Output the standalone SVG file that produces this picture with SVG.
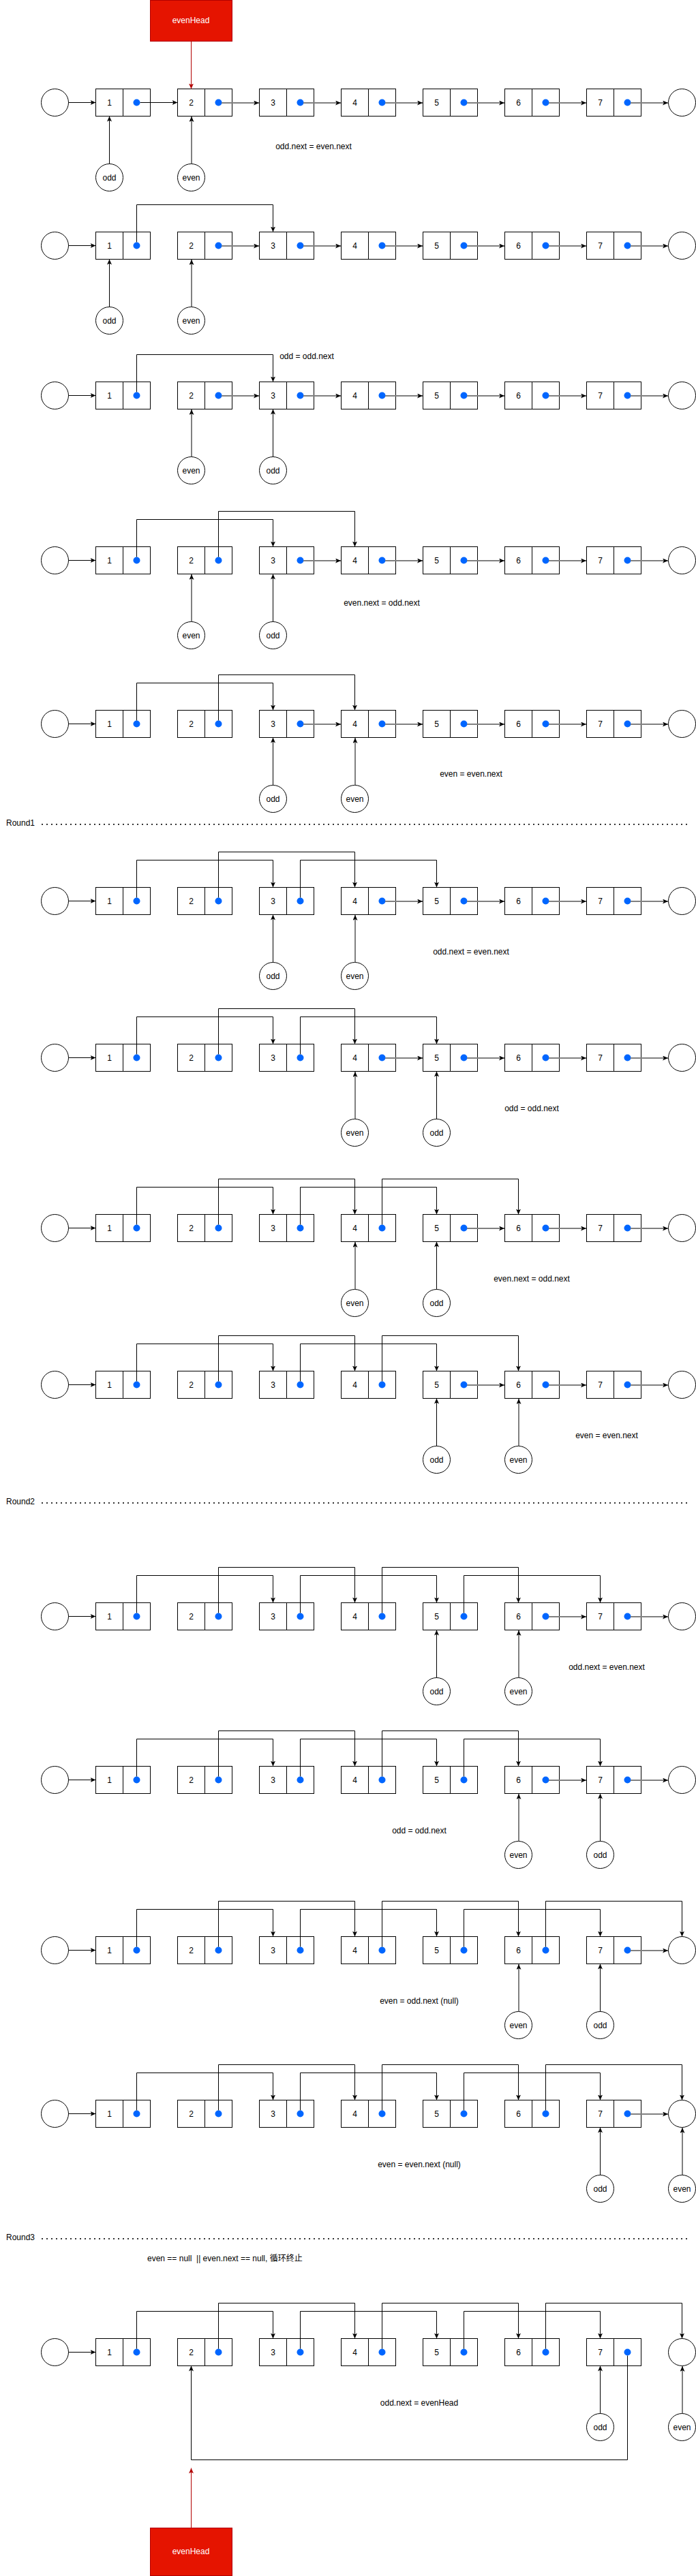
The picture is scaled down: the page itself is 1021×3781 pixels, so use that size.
<svg xmlns="http://www.w3.org/2000/svg" width="1021" height="3781" viewBox="0 0 1021 3781">
<style>
.bx{fill:#fff;stroke:#000;stroke-width:1}
.dt{fill:#0066ff;stroke:none}
.c{fill:#fff;stroke:#000;stroke-width:1}
.t{font-family:"Liberation Sans",Arial,sans-serif;font-size:12px;fill:#000;text-anchor:middle}
.l{font-family:"Liberation Sans",Arial,"Noto Sans CJK SC",sans-serif;font-size:12px;fill:#000;text-anchor:start}
.w{font-family:"Liberation Sans",Arial,sans-serif;font-size:12px;fill:#fff;text-anchor:middle}
.k{fill:none;stroke:#000;stroke-width:1;marker-end:url(#a)}
.g{fill:none;stroke:#808080;stroke-width:2;marker-end:url(#a)}
.r{fill:none;stroke:#B20000;stroke-width:1;marker-end:url(#ar)}
.sep{fill:none;stroke:#333;stroke-width:2;stroke-dasharray:2 5}
.eh{fill:#e51400;stroke:#B20000;stroke-width:1}
</style>
<defs>
<marker id="a" viewBox="0 0 8 7" refX="8" refY="3.5" markerWidth="8" markerHeight="7" markerUnits="userSpaceOnUse" orient="auto"><path d="M0,0 L8,3.5 L0,7 L2,3.5 Z" fill="#000"/></marker>
<marker id="ar" viewBox="0 0 8 7" refX="8" refY="3.5" markerWidth="8" markerHeight="7" markerUnits="userSpaceOnUse" orient="auto"><path d="M0,0 L8,3.5 L0,7 L2,3.5 Z" fill="#B20000"/></marker>
<g id="nd"><rect class="bx" x="0.5" y="0.5" width="40" height="40"/><rect class="bx" x="40.5" y="0.5" width="40" height="40"/><circle class="dt" cx="60.5" cy="20.5" r="5"/></g>
</defs>
<rect width="1021" height="3781" fill="#fff"/>

<g id="evenHead-top"><rect class="eh" x="220.5" y="0.5" width="120" height="60"/><text class="w" x="280" y="34">evenHead</text></g>
<g id="evenHead-bottom"><rect class="eh" x="220.5" y="3710.5" width="120" height="70"/><text class="w" x="280" y="3749">evenHead</text></g>

<g id="row1">
<g id="r1-head"><circle class="c" cx="80.5" cy="150.5" r="20"/></g>
<g id="r1-n1"><use href="#nd" x="140" y="130"/><text class="t" x="160.5" y="154.5">1</text></g>
<g id="r1-n2"><use href="#nd" x="260" y="130"/><text class="t" x="280.5" y="154.5">2</text></g>
<g id="r1-n3"><use href="#nd" x="380" y="130"/><text class="t" x="400.5" y="154.5">3</text></g>
<g id="r1-n4"><use href="#nd" x="500" y="130"/><text class="t" x="520.5" y="154.5">4</text></g>
<g id="r1-n5"><use href="#nd" x="620" y="130"/><text class="t" x="640.5" y="154.5">5</text></g>
<g id="r1-n6"><use href="#nd" x="740" y="130"/><text class="t" x="760.5" y="154.5">6</text></g>
<g id="r1-n7"><use href="#nd" x="860" y="130"/><text class="t" x="880.5" y="154.5">7</text></g>
<g id="r1-nil"><circle class="c" cx="1000.5" cy="150.5" r="20"/></g>
<g id="r1-odd"><circle class="c" cx="160.5" cy="260.5" r="20"/><text class="t" x="160.5" y="264.5">odd</text></g>
<g id="r1-even"><circle class="c" cx="280.5" cy="260.5" r="20"/><text class="t" x="280.5" y="264.5">even</text></g>
<text class="t" x="460" y="219">odd.next = even.next</text>
</g>

<g id="row2">
<g id="r2-head"><circle class="c" cx="80.5" cy="360.5" r="20"/></g>
<g id="r2-n1"><use href="#nd" x="140" y="340"/><text class="t" x="160.5" y="364.5">1</text></g>
<g id="r2-n2"><use href="#nd" x="260" y="340"/><text class="t" x="280.5" y="364.5">2</text></g>
<g id="r2-n3"><use href="#nd" x="380" y="340"/><text class="t" x="400.5" y="364.5">3</text></g>
<g id="r2-n4"><use href="#nd" x="500" y="340"/><text class="t" x="520.5" y="364.5">4</text></g>
<g id="r2-n5"><use href="#nd" x="620" y="340"/><text class="t" x="640.5" y="364.5">5</text></g>
<g id="r2-n6"><use href="#nd" x="740" y="340"/><text class="t" x="760.5" y="364.5">6</text></g>
<g id="r2-n7"><use href="#nd" x="860" y="340"/><text class="t" x="880.5" y="364.5">7</text></g>
<g id="r2-nil"><circle class="c" cx="1000.5" cy="360.5" r="20"/></g>
<g id="r2-odd"><circle class="c" cx="160.5" cy="470.5" r="20"/><text class="t" x="160.5" y="474.5">odd</text></g>
<g id="r2-even"><circle class="c" cx="280.5" cy="470.5" r="20"/><text class="t" x="280.5" y="474.5">even</text></g>
</g>

<g id="row3">
<g id="r3-head"><circle class="c" cx="80.5" cy="580.5" r="20"/></g>
<g id="r3-n1"><use href="#nd" x="140" y="560"/><text class="t" x="160.5" y="584.5">1</text></g>
<g id="r3-n2"><use href="#nd" x="260" y="560"/><text class="t" x="280.5" y="584.5">2</text></g>
<g id="r3-n3"><use href="#nd" x="380" y="560"/><text class="t" x="400.5" y="584.5">3</text></g>
<g id="r3-n4"><use href="#nd" x="500" y="560"/><text class="t" x="520.5" y="584.5">4</text></g>
<g id="r3-n5"><use href="#nd" x="620" y="560"/><text class="t" x="640.5" y="584.5">5</text></g>
<g id="r3-n6"><use href="#nd" x="740" y="560"/><text class="t" x="760.5" y="584.5">6</text></g>
<g id="r3-n7"><use href="#nd" x="860" y="560"/><text class="t" x="880.5" y="584.5">7</text></g>
<g id="r3-nil"><circle class="c" cx="1000.5" cy="580.5" r="20"/></g>
<g id="r3-even"><circle class="c" cx="280.5" cy="690.5" r="20"/><text class="t" x="280.5" y="694.5">even</text></g>
<g id="r3-odd"><circle class="c" cx="400.5" cy="690.5" r="20"/><text class="t" x="400.5" y="694.5">odd</text></g>
<text class="t" x="450" y="527">odd = odd.next</text>
</g>

<g id="row4">
<g id="r4-head"><circle class="c" cx="80.5" cy="822.5" r="20"/></g>
<g id="r4-n1"><use href="#nd" x="140" y="802"/><text class="t" x="160.5" y="826.5">1</text></g>
<g id="r4-n2"><use href="#nd" x="260" y="802"/><text class="t" x="280.5" y="826.5">2</text></g>
<g id="r4-n3"><use href="#nd" x="380" y="802"/><text class="t" x="400.5" y="826.5">3</text></g>
<g id="r4-n4"><use href="#nd" x="500" y="802"/><text class="t" x="520.5" y="826.5">4</text></g>
<g id="r4-n5"><use href="#nd" x="620" y="802"/><text class="t" x="640.5" y="826.5">5</text></g>
<g id="r4-n6"><use href="#nd" x="740" y="802"/><text class="t" x="760.5" y="826.5">6</text></g>
<g id="r4-n7"><use href="#nd" x="860" y="802"/><text class="t" x="880.5" y="826.5">7</text></g>
<g id="r4-nil"><circle class="c" cx="1000.5" cy="822.5" r="20"/></g>
<g id="r4-even"><circle class="c" cx="280.5" cy="932.5" r="20"/><text class="t" x="280.5" y="936.5">even</text></g>
<g id="r4-odd"><circle class="c" cx="400.5" cy="932.5" r="20"/><text class="t" x="400.5" y="936.5">odd</text></g>
<text class="t" x="560" y="889">even.next = odd.next</text>
</g>

<g id="row5">
<g id="r5-head"><circle class="c" cx="80.5" cy="1062.5" r="20"/></g>
<g id="r5-n1"><use href="#nd" x="140" y="1042"/><text class="t" x="160.5" y="1066.5">1</text></g>
<g id="r5-n2"><use href="#nd" x="260" y="1042"/><text class="t" x="280.5" y="1066.5">2</text></g>
<g id="r5-n3"><use href="#nd" x="380" y="1042"/><text class="t" x="400.5" y="1066.5">3</text></g>
<g id="r5-n4"><use href="#nd" x="500" y="1042"/><text class="t" x="520.5" y="1066.5">4</text></g>
<g id="r5-n5"><use href="#nd" x="620" y="1042"/><text class="t" x="640.5" y="1066.5">5</text></g>
<g id="r5-n6"><use href="#nd" x="740" y="1042"/><text class="t" x="760.5" y="1066.5">6</text></g>
<g id="r5-n7"><use href="#nd" x="860" y="1042"/><text class="t" x="880.5" y="1066.5">7</text></g>
<g id="r5-nil"><circle class="c" cx="1000.5" cy="1062.5" r="20"/></g>
<g id="r5-odd"><circle class="c" cx="400.5" cy="1172.5" r="20"/><text class="t" x="400.5" y="1176.5">odd</text></g>
<g id="r5-even"><circle class="c" cx="520.5" cy="1172.5" r="20"/><text class="t" x="520.5" y="1176.5">even</text></g>
<text class="t" x="691" y="1140">even = even.next</text>
</g>

<g id="round1"><text class="l" x="9" y="1212">Round1</text><line class="sep" x1="61" y1="1210" x2="1010" y2="1210"/></g>

<g id="row6">
<g id="r6-head"><circle class="c" cx="80.5" cy="1322.5" r="20"/></g>
<g id="r6-n1"><use href="#nd" x="140" y="1302"/><text class="t" x="160.5" y="1326.5">1</text></g>
<g id="r6-n2"><use href="#nd" x="260" y="1302"/><text class="t" x="280.5" y="1326.5">2</text></g>
<g id="r6-n3"><use href="#nd" x="380" y="1302"/><text class="t" x="400.5" y="1326.5">3</text></g>
<g id="r6-n4"><use href="#nd" x="500" y="1302"/><text class="t" x="520.5" y="1326.5">4</text></g>
<g id="r6-n5"><use href="#nd" x="620" y="1302"/><text class="t" x="640.5" y="1326.5">5</text></g>
<g id="r6-n6"><use href="#nd" x="740" y="1302"/><text class="t" x="760.5" y="1326.5">6</text></g>
<g id="r6-n7"><use href="#nd" x="860" y="1302"/><text class="t" x="880.5" y="1326.5">7</text></g>
<g id="r6-nil"><circle class="c" cx="1000.5" cy="1322.5" r="20"/></g>
<g id="r6-odd"><circle class="c" cx="400.5" cy="1432.5" r="20"/><text class="t" x="400.5" y="1436.5">odd</text></g>
<g id="r6-even"><circle class="c" cx="520.5" cy="1432.5" r="20"/><text class="t" x="520.5" y="1436.5">even</text></g>
<text class="t" x="691" y="1401">odd.next = even.next</text>
</g>

<g id="row7">
<g id="r7-head"><circle class="c" cx="80.5" cy="1552.5" r="20"/></g>
<g id="r7-n1"><use href="#nd" x="140" y="1532"/><text class="t" x="160.5" y="1556.5">1</text></g>
<g id="r7-n2"><use href="#nd" x="260" y="1532"/><text class="t" x="280.5" y="1556.5">2</text></g>
<g id="r7-n3"><use href="#nd" x="380" y="1532"/><text class="t" x="400.5" y="1556.5">3</text></g>
<g id="r7-n4"><use href="#nd" x="500" y="1532"/><text class="t" x="520.5" y="1556.5">4</text></g>
<g id="r7-n5"><use href="#nd" x="620" y="1532"/><text class="t" x="640.5" y="1556.5">5</text></g>
<g id="r7-n6"><use href="#nd" x="740" y="1532"/><text class="t" x="760.5" y="1556.5">6</text></g>
<g id="r7-n7"><use href="#nd" x="860" y="1532"/><text class="t" x="880.5" y="1556.5">7</text></g>
<g id="r7-nil"><circle class="c" cx="1000.5" cy="1552.5" r="20"/></g>
<g id="r7-even"><circle class="c" cx="520.5" cy="1662.5" r="20"/><text class="t" x="520.5" y="1666.5">even</text></g>
<g id="r7-odd"><circle class="c" cx="640.5" cy="1662.5" r="20"/><text class="t" x="640.5" y="1666.5">odd</text></g>
<text class="t" x="780" y="1631">odd = odd.next</text>
</g>

<g id="row8">
<g id="r8-head"><circle class="c" cx="80.5" cy="1802.5" r="20"/></g>
<g id="r8-n1"><use href="#nd" x="140" y="1782"/><text class="t" x="160.5" y="1806.5">1</text></g>
<g id="r8-n2"><use href="#nd" x="260" y="1782"/><text class="t" x="280.5" y="1806.5">2</text></g>
<g id="r8-n3"><use href="#nd" x="380" y="1782"/><text class="t" x="400.5" y="1806.5">3</text></g>
<g id="r8-n4"><use href="#nd" x="500" y="1782"/><text class="t" x="520.5" y="1806.5">4</text></g>
<g id="r8-n5"><use href="#nd" x="620" y="1782"/><text class="t" x="640.5" y="1806.5">5</text></g>
<g id="r8-n6"><use href="#nd" x="740" y="1782"/><text class="t" x="760.5" y="1806.5">6</text></g>
<g id="r8-n7"><use href="#nd" x="860" y="1782"/><text class="t" x="880.5" y="1806.5">7</text></g>
<g id="r8-nil"><circle class="c" cx="1000.5" cy="1802.5" r="20"/></g>
<g id="r8-even"><circle class="c" cx="520.5" cy="1912.5" r="20"/><text class="t" x="520.5" y="1916.5">even</text></g>
<g id="r8-odd"><circle class="c" cx="640.5" cy="1912.5" r="20"/><text class="t" x="640.5" y="1916.5">odd</text></g>
<text class="t" x="780" y="1881">even.next = odd.next</text>
</g>

<g id="row9">
<g id="r9-head"><circle class="c" cx="80.5" cy="2032.5" r="20"/></g>
<g id="r9-n1"><use href="#nd" x="140" y="2012"/><text class="t" x="160.5" y="2036.5">1</text></g>
<g id="r9-n2"><use href="#nd" x="260" y="2012"/><text class="t" x="280.5" y="2036.5">2</text></g>
<g id="r9-n3"><use href="#nd" x="380" y="2012"/><text class="t" x="400.5" y="2036.5">3</text></g>
<g id="r9-n4"><use href="#nd" x="500" y="2012"/><text class="t" x="520.5" y="2036.5">4</text></g>
<g id="r9-n5"><use href="#nd" x="620" y="2012"/><text class="t" x="640.5" y="2036.5">5</text></g>
<g id="r9-n6"><use href="#nd" x="740" y="2012"/><text class="t" x="760.5" y="2036.5">6</text></g>
<g id="r9-n7"><use href="#nd" x="860" y="2012"/><text class="t" x="880.5" y="2036.5">7</text></g>
<g id="r9-nil"><circle class="c" cx="1000.5" cy="2032.5" r="20"/></g>
<g id="r9-odd"><circle class="c" cx="640.5" cy="2142.5" r="20"/><text class="t" x="640.5" y="2146.5">odd</text></g>
<g id="r9-even"><circle class="c" cx="760.5" cy="2142.5" r="20"/><text class="t" x="760.5" y="2146.5">even</text></g>
<text class="t" x="890" y="2111">even = even.next</text>
</g>

<g id="round2"><text class="l" x="9" y="2208">Round2</text><line class="sep" x1="61" y1="2206" x2="1010" y2="2206"/></g>

<g id="row10">
<g id="r10-head"><circle class="c" cx="80.5" cy="2372.5" r="20"/></g>
<g id="r10-n1"><use href="#nd" x="140" y="2352"/><text class="t" x="160.5" y="2376.5">1</text></g>
<g id="r10-n2"><use href="#nd" x="260" y="2352"/><text class="t" x="280.5" y="2376.5">2</text></g>
<g id="r10-n3"><use href="#nd" x="380" y="2352"/><text class="t" x="400.5" y="2376.5">3</text></g>
<g id="r10-n4"><use href="#nd" x="500" y="2352"/><text class="t" x="520.5" y="2376.5">4</text></g>
<g id="r10-n5"><use href="#nd" x="620" y="2352"/><text class="t" x="640.5" y="2376.5">5</text></g>
<g id="r10-n6"><use href="#nd" x="740" y="2352"/><text class="t" x="760.5" y="2376.5">6</text></g>
<g id="r10-n7"><use href="#nd" x="860" y="2352"/><text class="t" x="880.5" y="2376.5">7</text></g>
<g id="r10-nil"><circle class="c" cx="1000.5" cy="2372.5" r="20"/></g>
<g id="r10-odd"><circle class="c" cx="640.5" cy="2482.5" r="20"/><text class="t" x="640.5" y="2486.5">odd</text></g>
<g id="r10-even"><circle class="c" cx="760.5" cy="2482.5" r="20"/><text class="t" x="760.5" y="2486.5">even</text></g>
<text class="t" x="890" y="2451">odd.next = even.next</text>
</g>

<g id="row11">
<g id="r11-head"><circle class="c" cx="80.5" cy="2612.5" r="20"/></g>
<g id="r11-n1"><use href="#nd" x="140" y="2592"/><text class="t" x="160.5" y="2616.5">1</text></g>
<g id="r11-n2"><use href="#nd" x="260" y="2592"/><text class="t" x="280.5" y="2616.5">2</text></g>
<g id="r11-n3"><use href="#nd" x="380" y="2592"/><text class="t" x="400.5" y="2616.5">3</text></g>
<g id="r11-n4"><use href="#nd" x="500" y="2592"/><text class="t" x="520.5" y="2616.5">4</text></g>
<g id="r11-n5"><use href="#nd" x="620" y="2592"/><text class="t" x="640.5" y="2616.5">5</text></g>
<g id="r11-n6"><use href="#nd" x="740" y="2592"/><text class="t" x="760.5" y="2616.5">6</text></g>
<g id="r11-n7"><use href="#nd" x="860" y="2592"/><text class="t" x="880.5" y="2616.5">7</text></g>
<g id="r11-nil"><circle class="c" cx="1000.5" cy="2612.5" r="20"/></g>
<g id="r11-even"><circle class="c" cx="760.5" cy="2722.5" r="20"/><text class="t" x="760.5" y="2726.5">even</text></g>
<g id="r11-odd"><circle class="c" cx="880.5" cy="2722.5" r="20"/><text class="t" x="880.5" y="2726.5">odd</text></g>
<text class="t" x="615" y="2691">odd = odd.next</text>
</g>

<g id="row12">
<g id="r12-head"><circle class="c" cx="80.5" cy="2862.5" r="20"/></g>
<g id="r12-n1"><use href="#nd" x="140" y="2842"/><text class="t" x="160.5" y="2866.5">1</text></g>
<g id="r12-n2"><use href="#nd" x="260" y="2842"/><text class="t" x="280.5" y="2866.5">2</text></g>
<g id="r12-n3"><use href="#nd" x="380" y="2842"/><text class="t" x="400.5" y="2866.5">3</text></g>
<g id="r12-n4"><use href="#nd" x="500" y="2842"/><text class="t" x="520.5" y="2866.5">4</text></g>
<g id="r12-n5"><use href="#nd" x="620" y="2842"/><text class="t" x="640.5" y="2866.5">5</text></g>
<g id="r12-n6"><use href="#nd" x="740" y="2842"/><text class="t" x="760.5" y="2866.5">6</text></g>
<g id="r12-n7"><use href="#nd" x="860" y="2842"/><text class="t" x="880.5" y="2866.5">7</text></g>
<g id="r12-nil"><circle class="c" cx="1000.5" cy="2862.5" r="20"/></g>
<g id="r12-even"><circle class="c" cx="760.5" cy="2972.5" r="20"/><text class="t" x="760.5" y="2976.5">even</text></g>
<g id="r12-odd"><circle class="c" cx="880.5" cy="2972.5" r="20"/><text class="t" x="880.5" y="2976.5">odd</text></g>
<text class="t" x="615" y="2941">even = odd.next (null)</text>
</g>

<g id="row13">
<g id="r13-head"><circle class="c" cx="80.5" cy="3102.5" r="20"/></g>
<g id="r13-n1"><use href="#nd" x="140" y="3082"/><text class="t" x="160.5" y="3106.5">1</text></g>
<g id="r13-n2"><use href="#nd" x="260" y="3082"/><text class="t" x="280.5" y="3106.5">2</text></g>
<g id="r13-n3"><use href="#nd" x="380" y="3082"/><text class="t" x="400.5" y="3106.5">3</text></g>
<g id="r13-n4"><use href="#nd" x="500" y="3082"/><text class="t" x="520.5" y="3106.5">4</text></g>
<g id="r13-n5"><use href="#nd" x="620" y="3082"/><text class="t" x="640.5" y="3106.5">5</text></g>
<g id="r13-n6"><use href="#nd" x="740" y="3082"/><text class="t" x="760.5" y="3106.5">6</text></g>
<g id="r13-n7"><use href="#nd" x="860" y="3082"/><text class="t" x="880.5" y="3106.5">7</text></g>
<g id="r13-nil"><circle class="c" cx="1000.5" cy="3102.5" r="20"/></g>
<g id="r13-odd"><circle class="c" cx="880.5" cy="3212.5" r="20"/><text class="t" x="880.5" y="3216.5">odd</text></g>
<g id="r13-even"><circle class="c" cx="1000.5" cy="3212.5" r="20"/><text class="t" x="1000.5" y="3216.5">even</text></g>
<text class="t" x="615" y="3181">even = even.next (null)</text>
</g>

<g id="round3"><text class="l" x="9" y="3288">Round3</text><line class="sep" x1="61" y1="3286" x2="1010" y2="3286"/>
<text class="l" x="216" y="3319" xml:space="preserve">even == null  || even.next == null, 循环终止</text></g>

<g id="row14">
<g id="r14-head"><circle class="c" cx="80.5" cy="3452.5" r="20"/></g>
<g id="r14-n1"><use href="#nd" x="140" y="3432"/><text class="t" x="160.5" y="3456.5">1</text></g>
<g id="r14-n2"><use href="#nd" x="260" y="3432"/><text class="t" x="280.5" y="3456.5">2</text></g>
<g id="r14-n3"><use href="#nd" x="380" y="3432"/><text class="t" x="400.5" y="3456.5">3</text></g>
<g id="r14-n4"><use href="#nd" x="500" y="3432"/><text class="t" x="520.5" y="3456.5">4</text></g>
<g id="r14-n5"><use href="#nd" x="620" y="3432"/><text class="t" x="640.5" y="3456.5">5</text></g>
<g id="r14-n6"><use href="#nd" x="740" y="3432"/><text class="t" x="760.5" y="3456.5">6</text></g>
<g id="r14-n7"><use href="#nd" x="860" y="3432"/><text class="t" x="880.5" y="3456.5">7</text></g>
<g id="r14-nil"><circle class="c" cx="1000.5" cy="3452.5" r="20"/></g>
<g id="r14-odd"><circle class="c" cx="880.5" cy="3562.5" r="20"/><text class="t" x="880.5" y="3566.5">odd</text></g>
<g id="r14-even"><circle class="c" cx="1000.5" cy="3562.5" r="20"/><text class="t" x="1000.5" y="3566.5">even</text></g>
<text class="t" x="615" y="3531">odd.next = evenHead</text>
</g>

<g id="connectors">
<g id="black-links" transform="translate(0.5 0.5)">
<path class="r" d="M280 60V130"/>
<path class="r" d="M280 3710V3622"/>
<path class="k" d="M100 150H140"/><path class="k" d="M100 360H140"/><path class="k" d="M100 580H140"/><path class="k" d="M100 822H140"/><path class="k" d="M100 1062H140"/><path class="k" d="M100 1322H140"/><path class="k" d="M100 1552H140"/><path class="k" d="M100 1802H140"/><path class="k" d="M100 2032H140"/><path class="k" d="M100 2372H140"/><path class="k" d="M100 2612H140"/><path class="k" d="M100 2862H140"/><path class="k" d="M100 3102H140"/><path class="k" d="M100 3452H140"/>
<path class="k" d="M205 150H260"/>
<path class="k" d="M160 240V170"/><path class="k" d="M160 450V380"/><path class="k" d="M400 670V600"/><path class="k" d="M400 912V842"/><path class="k" d="M400 1152V1082"/><path class="k" d="M400 1412V1342"/><path class="k" d="M640 1642V1572"/><path class="k" d="M640 1892V1822"/><path class="k" d="M640 2122V2052"/><path class="k" d="M640 2462V2392"/><path class="k" d="M880 2702V2632"/><path class="k" d="M880 2952V2882"/><path class="k" d="M880 3192V3122"/><path class="k" d="M880 3542V3472"/>
<path class="k" d="M200 355V300H400V340"/>
<path class="k" d="M200 575V520H400V560"/>
<path class="k" d="M200 817V762H400V802"/><path class="k" d="M320 817V750H520V802"/>
<path class="k" d="M200 1057V1002H400V1042"/><path class="k" d="M320 1057V990H520V1042"/>
<path class="k" d="M200 1317V1262H400V1302"/><path class="k" d="M320 1317V1250H520V1302"/><path class="k" d="M440 1317V1262H640V1302"/>
<path class="k" d="M200 1547V1492H400V1532"/><path class="k" d="M320 1547V1480H520V1532"/><path class="k" d="M440 1547V1492H640V1532"/>
<path class="k" d="M200 1797V1742H400V1782"/><path class="k" d="M320 1797V1730H520V1782"/><path class="k" d="M440 1797V1742H640V1782"/><path class="k" d="M560 1797V1730H760V1782"/>
<path class="k" d="M200 2027V1972H400V2012"/><path class="k" d="M320 2027V1960H520V2012"/><path class="k" d="M440 2027V1972H640V2012"/><path class="k" d="M560 2027V1960H760V2012"/>
<path class="k" d="M200 2367V2312H400V2352"/><path class="k" d="M320 2367V2300H520V2352"/><path class="k" d="M440 2367V2312H640V2352"/><path class="k" d="M560 2367V2300H760V2352"/><path class="k" d="M680 2367V2312H880V2352"/>
<path class="k" d="M200 2607V2552H400V2592"/><path class="k" d="M320 2607V2540H520V2592"/><path class="k" d="M440 2607V2552H640V2592"/><path class="k" d="M560 2607V2540H760V2592"/><path class="k" d="M680 2607V2552H880V2592"/>
<path class="k" d="M200 2857V2802H400V2842"/><path class="k" d="M320 2857V2790H520V2842"/><path class="k" d="M440 2857V2802H640V2842"/><path class="k" d="M560 2857V2790H760V2842"/><path class="k" d="M680 2857V2802H880V2842"/><path class="k" d="M800 2857V2790H1000V2842"/>
<path class="k" d="M200 3097V3042H400V3082"/><path class="k" d="M320 3097V3030H520V3082"/><path class="k" d="M440 3097V3042H640V3082"/><path class="k" d="M560 3097V3030H760V3082"/><path class="k" d="M680 3097V3042H880V3082"/><path class="k" d="M800 3097V3030H1000V3082"/>
<path class="k" d="M200 3447V3392H400V3432"/><path class="k" d="M320 3447V3380H520V3432"/><path class="k" d="M440 3447V3392H640V3432"/><path class="k" d="M560 3447V3380H760V3432"/><path class="k" d="M680 3447V3392H880V3432"/><path class="k" d="M800 3447V3380H1000V3432"/>
<path class="k" d="M920 3457V3610H280V3472"/>
</g>
<g id="gray-links">
<path class="g" d="M325 151H380"/><path class="g" d="M445 151H500"/><path class="g" d="M565 151H620"/><path class="g" d="M685 151H740"/><path class="g" d="M805 151H860"/><path class="g" d="M925 151H980"/>
<path class="g" d="M281 240V171"/>
<path class="g" d="M325 361H380"/><path class="g" d="M445 361H500"/><path class="g" d="M565 361H620"/><path class="g" d="M685 361H740"/><path class="g" d="M805 361H860"/><path class="g" d="M925 361H980"/>
<path class="g" d="M281 450V381"/>
<path class="g" d="M325 581H380"/><path class="g" d="M445 581H500"/><path class="g" d="M565 581H620"/><path class="g" d="M685 581H740"/><path class="g" d="M805 581H860"/><path class="g" d="M925 581H980"/>
<path class="g" d="M281 670V601"/>
<path class="g" d="M445 823H500"/><path class="g" d="M565 823H620"/><path class="g" d="M685 823H740"/><path class="g" d="M805 823H860"/><path class="g" d="M925 823H980"/>
<path class="g" d="M281 912V843"/>
<path class="g" d="M445 1063H500"/><path class="g" d="M565 1063H620"/><path class="g" d="M685 1063H740"/><path class="g" d="M805 1063H860"/><path class="g" d="M925 1063H980"/>
<path class="g" d="M521 1152V1083"/>
<path class="g" d="M565 1323H620"/><path class="g" d="M685 1323H740"/><path class="g" d="M805 1323H860"/><path class="g" d="M925 1323H980"/>
<path class="g" d="M521 1412V1343"/>
<path class="g" d="M565 1553H620"/><path class="g" d="M685 1553H740"/><path class="g" d="M805 1553H860"/><path class="g" d="M925 1553H980"/>
<path class="g" d="M521 1642V1573"/>
<path class="g" d="M685 1803H740"/><path class="g" d="M805 1803H860"/><path class="g" d="M925 1803H980"/>
<path class="g" d="M521 1892V1823"/>
<path class="g" d="M685 2033H740"/><path class="g" d="M805 2033H860"/><path class="g" d="M925 2033H980"/>
<path class="g" d="M761 2122V2053"/>
<path class="g" d="M805 2373H860"/><path class="g" d="M925 2373H980"/>
<path class="g" d="M761 2462V2393"/>
<path class="g" d="M805 2613H860"/><path class="g" d="M925 2613H980"/>
<path class="g" d="M761 2702V2633"/>
<path class="g" d="M925 2863H980"/>
<path class="g" d="M761 2952V2883"/>
<path class="g" d="M925 3103H980"/>
<path class="g" d="M1001 3192V3123"/>
<path class="g" d="M1001 3542V3473"/>
</g>
</g>
</svg>
